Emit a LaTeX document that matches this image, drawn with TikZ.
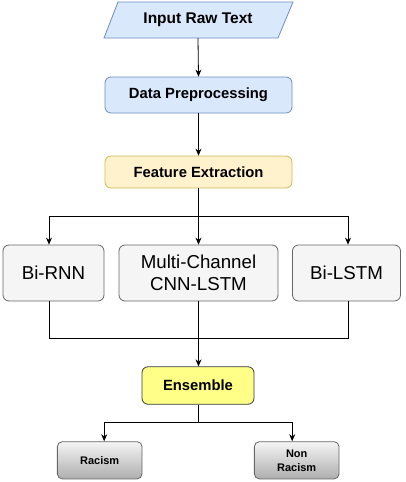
\documentclass[tikz,border=0pt]{standalone}
\usepackage{fontspec}
\setmainfont{Liberation Sans}
\usetikzlibrary{arrows.meta}
\definecolor{bluefill}{HTML}{DAE8FC}
\definecolor{bluedraw}{HTML}{6C8EBF}
\definecolor{yelfill}{HTML}{FFF2CC}
\definecolor{yeldraw}{HTML}{D6B656}
\definecolor{grayfill}{HTML}{F5F5F5}
\definecolor{graydraw}{HTML}{666666}
\definecolor{ensfill}{HTML}{FFFF88}
\definecolor{ensdraw}{HTML}{36393D}
\begin{document}
\begin{tikzpicture}[x=1pt,y=-1pt,
  box/.style={draw, rounded corners=6pt, align=center, inner sep=0pt, line width=0.8pt},
  bluebox/.style={box, fill=bluefill, draw=bluedraw},
  headfont/.style={font=\bfseries\fontsize{14.8}{17}\selectfont},
  modelbox/.style={box, fill=grayfill, draw=graydraw, minimum height=56pt, font=\fontsize{18.7}{22}\selectfont},
  outbox/.style={box, rounded corners=5pt, draw=graydraw, top color=grayfill, bottom color=black!32, minimum width=84.7pt, minimum height=37.3pt, font=\bfseries\fontsize{11}{14}\selectfont},
  arr/.style={-{Stealth[length=7pt,width=6pt]}, line width=0.8pt},
  conn/.style={line width=0.8pt}]
\useasboundingbox (0,0) rectangle (406,482);
% input parallelogram
\filldraw[fill=bluefill, draw=bluedraw, line width=0.8pt] (118,2) -- (293,2) -- (278,38) -- (104,38) -- cycle;
\node[inner sep=0pt, minimum width=160pt, minimum height=36pt, font=\bfseries\fontsize{15.5}{18}\selectfont] (in) at (198,20) {Input Raw Text};
\node[bluebox, headfont, minimum width=187pt, minimum height=36pt] (dp) at (198.5,95) {Data Preprocessing};
\node[box, fill=yelfill, draw=yeldraw, headfont, minimum width=187pt, minimum height=32pt] (fe) at (198.5,172) {Feature Extraction};
\node[modelbox, minimum width=101pt] (rnn) at (53.5,273) {Bi-RNN};
\node[modelbox, minimum width=159pt] (cnn) at (198.5,273) {Multi-Channel\\CNN-LSTM};
\node[modelbox, minimum width=108pt] (lstm) at (346.5,273) {Bi-LSTM};
\node[box, fill=ensfill, draw=ensdraw, headfont, minimum width=112pt, minimum height=37.5pt] (ens) at (198,385.5) {Ensemble};
\node[outbox] (rac) at (99.7,460.3) {Racism};
\node[outbox] (non) at (296.7,460.3) {Non\\Racism};
% connectors
\draw[arr] (in.south) -- (dp.north);
\draw[arr] (dp) -- (fe);
\coordinate (split) at (198.5,216);
\draw[conn] (fe.south) -- (split);
\draw[arr] (split) -| ([xshift=-4.5pt]rnn.north);
\draw[arr] (split) -| ([xshift=1.5pt]lstm.north);
\draw[arr] (split) -- (cnn.north);
\coordinate (join) at (198.5,338);
\draw[conn] ([xshift=-4.5pt]rnn.south) |- (join);
\draw[conn] ([xshift=1.5pt]lstm.south) |- (join);
\draw[conn] (cnn.south) -- (join);
\draw[arr] (join) -- (ens.north -| join);
\coordinate (split2) at (198,422.7);
\draw[conn] (ens.south) -- (split2);
\draw[arr] (split2) -| ([xshift=4.5pt]rac.north);
\draw[arr] (split2) -| ([xshift=-4.5pt]non.north);
\end{tikzpicture}
\end{document}
